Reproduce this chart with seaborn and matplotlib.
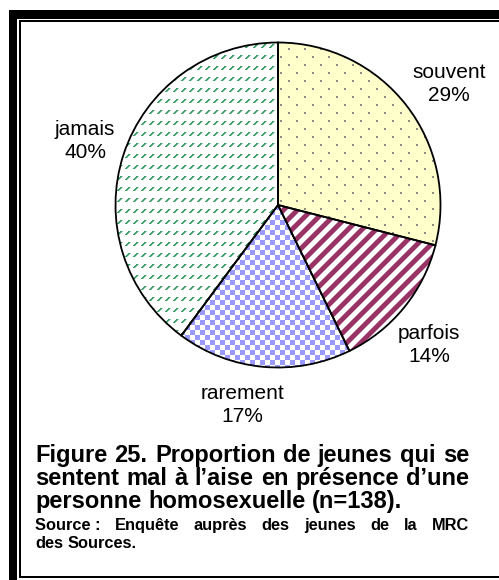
import numpy as np
import matplotlib
matplotlib.use("Agg")
import matplotlib.pyplot as plt
import seaborn as sns
from matplotlib.colors import to_rgb
from matplotlib.patches import Rectangle

# Figure 25 : malaise en présence d'une personne homosexuelle (n=138)
reponses = ["souvent", "parfois", "rarement", "jamais"]
effectifs = [40, 19, 24, 55]
pourcentages = [29, 14, 17, 40]

titre = ["Figure 25. Proportion de jeunes qui se",
         "sentent mal à l’aise en présence d’une",
         "personne homosexuelle (n=138)."]
# espace insécable avant les deux-points : "Source :" reste un seul mot
source = ["Source\u00a0: Enquête auprès des jeunes de la MRC",
          "des Sources."]

sns.set_theme(style="white")
plt.rcParams["font.family"] = ["Liberation Sans", "DejaVu Sans"]

W, H = 499, 580
fig = plt.figure(figsize=(W / 100, H / 100), dpi=100)
fig.patch.set_facecolor("white")


# cadre double à gauche et en haut
def bande(x0, y0, x1, y1):
    fig.add_artist(Rectangle((x0 / W, 1 - y1 / H), (x1 - x0) / W, (y1 - y0) / H,
                             transform=fig.transFigure, facecolor="black",
                             edgecolor="none"))


bande(9, 10, W, 19)
bande(9, 10, 17, H)
bande(19, 20, W, 22)
bande(19, 20, 21, 578)
bande(19, 576, W, 578)

# camembert
N = 390
ax = fig.add_axes([83 / W, 180 / H, N / W, N / H])
wedges, _ = ax.pie(effectifs, startangle=90, counterclock=False, radius=1,
                   wedgeprops=dict(facecolor="none", edgecolor="black",
                                   linewidth=1.3, zorder=3))

# motifs de remplissage
rows, cols = np.mgrid[0:N, 0:N]
rows = rows + 10
cols = cols + 83


def motif(nom):
    img = np.ones((N, N, 3))
    if nom == "points":
        img[:] = to_rgb("#FFFFCC")
        m = ((rows % 8) < 2) & (((cols + 8 * ((rows // 8) % 2)) % 16) < 2)
        img[m] = to_rgb("#8C8C80")
    elif nom == "rayures":
        d = (cols + rows) % 14
        img[d < 6] = to_rgb("#993366")
        img[(d == 6) | (d == 13)] = to_rgb("#CC99B2")
    elif nom == "damier":
        m = ((rows // 5 + cols // 5) % 2) == 0
        img[m] = to_rgb("#9999FF")
    elif nom == "tirets":
        b = rows % 11
        m = (b < 4) & (((cols + b) % 8) < 2)
        img[m] = to_rgb("#3F9F6C")
        img[(b < 4) & (((cols + b) % 8) == 2)] = to_rgb("#A8D8BC")
    return img


motifs = ["points", "rayures", "damier", "tirets"]
for w, nom in zip(wedges, motifs):
    im = ax.imshow(motif(nom), extent=(-1.2, 1.2, -1.2, 1.2),
                   interpolation="nearest", zorder=1)
    im.set_clip_path(w)

ax.set_xlim(-1.2, 1.2)
ax.set_ylim(-1.2, 1.2)
ax.set_aspect("equal")
ax.axis("off")

# étiquettes (position en pixels : centre x, ligne de base de la 2e ligne)
pos_etiquettes = [(449, 101), (429, 362), (242, 422), (85, 158)]
for rep, pct, (px, py) in zip(reponses, pourcentages, pos_etiquettes):
    ax.text((px - 278) / 162.5, (205 - py) / 162.5, f"{rep}\n{pct}%",
            ha="center", va="baseline", fontsize=15, linespacing=1.25,
            multialignment="center", color="black")

# légende justifiée
renderer = fig.canvas.get_renderer()


def largeur(texte, taille):
    t = fig.text(0, 0, texte, fontsize=taille, fontweight="bold")
    l = t.get_window_extent(renderer).width
    t.remove()
    return l


def ligne(texte, y_px, taille, justifie, x0=35, x1=469):
    mots = texte.split(" ")
    arts = [fig.text(x0 / W, 1 - y_px / H, m, fontsize=taille, fontweight="bold",
                     va="baseline", ha="left", color="black") for m in mots]
    larg = [a.get_window_extent(renderer).width for a in arts]
    if justifie and len(mots) > 1:
        esp = (x1 - x0 - sum(larg)) / (len(mots) - 1)
    else:
        esp = largeur("a a", taille) - 2 * largeur("a", taille)
    x = x0
    for a, l in zip(arts, larg):
        a.set_x(x / W)
        x += l + esp


for i, t in enumerate(titre):
    ligne(t, [462, 485, 508][i], 17, i < len(titre) - 1)
for i, t in enumerate(source):
    ligne(t, [530, 548][i], 11.8, i < len(source) - 1)

fig.savefig("out.png", dpi=100, facecolor="white")
